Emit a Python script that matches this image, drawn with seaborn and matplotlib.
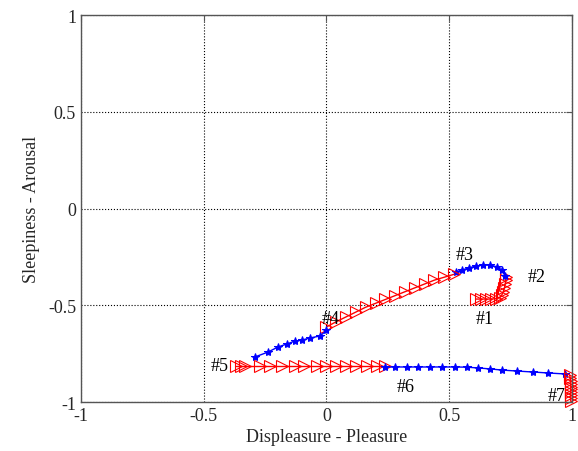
import matplotlib
matplotlib.use("Agg")
import matplotlib.pyplot as plt
import seaborn as sns
import pandas as pd

# Red segments (triangles) and blue segments (stars)
red1_x = [0.61, 0.63, 0.65, 0.67, 0.69, 0.705, 0.715, 0.72, 0.725, 0.728, 0.73, 0.73]
red1_y = [-0.468, -0.468, -0.468, -0.468, -0.466, -0.46, -0.445, -0.43, -0.41, -0.39, -0.37, -0.354]
blue1_x = [0.727, 0.715, 0.695, 0.666, 0.637, 0.609, 0.580, 0.552, 0.527]
blue1_y = [-0.349, -0.318, -0.302, -0.292, -0.292, -0.297, -0.307, -0.318, -0.328]
red2_x = [0.52, 0.48, 0.44, 0.40, 0.36, 0.32, 0.28, 0.24, 0.20, 0.16, 0.12, 0.08, 0.04, 0.00]
red2_y = [-0.34, -0.355, -0.37, -0.39, -0.41, -0.43, -0.45, -0.47, -0.49, -0.51, -0.535, -0.56, -0.585, -0.612]
blue2_x = [0.0, -0.026, -0.067, -0.10, -0.128, -0.161, -0.198, -0.238, -0.291]
blue2_y = [-0.63, -0.659, -0.669, -0.680, -0.685, -0.700, -0.716, -0.742, -0.767]
red3_x = [-0.37, -0.35, -0.33, -0.27, -0.23, -0.18, -0.13, -0.09, -0.04, 0.0, 0.04, 0.08, 0.12, 0.165, 0.205, 0.24]
red3_y = [-0.815] * 16
blue3_x = [0.24, 0.279, 0.328, 0.373, 0.421, 0.470, 0.523, 0.572, 0.617, 0.666, 0.715, 0.776, 0.841, 0.902, 0.971]
blue3_y = [-0.819, -0.819, -0.819, -0.819, -0.819, -0.819, -0.819, -0.820, -0.824, -0.829, -0.835, -0.840, -0.845, -0.850, -0.855]
red4_x = [0.99, 0.993, 0.995, 0.995, 0.995, 0.995, 0.995, 0.995, 0.995, 0.995]
red4_y = [-0.86, -0.875, -0.89, -0.905, -0.92, -0.935, -0.95, -0.965, -0.98, -0.995]

labels = ["#1", "#2", "#3", "#4", "#5", "#6", "#7"]
label_x = [0.646, 0.857, 0.564, 0.018, -0.434, 0.324, 0.939]
label_y = [-0.566, -0.349, -0.240, -0.571, -0.809, -0.922, -0.964]

ticks = [-1, -0.5, 0, 0.5, 1]
tick_labels = ["-1", "-0.5", "0", "0.5", "1"]

sns.set_style("white")
plt.rcParams["font.family"] = ["Liberation Serif", "DejaVu Serif"]
plt.rcParams["xtick.direction"] = "in"
plt.rcParams["ytick.direction"] = "in"

fig = plt.figure(figsize=(5.78, 4.52), dpi=100)
ax = fig.add_axes([0.140, 0.1084, 0.8496, 0.8562])

red_kw = dict(color="red", marker=">", markersize=8, markerfacecolor="none",
              markeredgecolor="red", markeredgewidth=0.8, linewidth=1.0, sort=False,
              estimator=None, clip_on=False)
blue_kw = dict(color="blue", marker="*", markersize=6, markerfacecolor="blue",
               markeredgecolor="blue", linewidth=1.0, sort=False, estimator=None,
               clip_on=False)

for xs, ys, kw in [(red1_x, red1_y, red_kw), (blue1_x, blue1_y, blue_kw),
                   (red2_x, red2_y, red_kw), (blue2_x, blue2_y, blue_kw),
                   (red3_x, red3_y, red_kw), (blue3_x, blue3_y, blue_kw),
                   (red4_x, red4_y, red_kw)]:
    df = pd.DataFrame({"x": xs, "y": ys})
    sns.lineplot(data=df, x="x", y="y", ax=ax, **kw)

for t, lx, ly in zip(labels, label_x, label_y):
    ax.text(lx, ly, t, fontsize=13, ha="center", va="center", color="black")

ax.set_xlim(-1, 1)
ax.set_ylim(-1, 1)
ax.set_xticks(ticks)
ax.set_xticklabels(tick_labels)
ax.set_yticks(ticks)
ax.set_yticklabels(tick_labels)
ax.tick_params(labelsize=13, length=4, color="#555555", top=True, right=True)
ax.grid(True, color="black", linestyle=":", linewidth=0.8)
for s in ax.spines.values():
    s.set_color("#555555")
    s.set_linewidth(1.0)
ax.set_xlabel("Displeasure - Pleasure", fontsize=13, labelpad=3)
ax.set_ylabel("Sleepiness - Arousal", fontsize=13, labelpad=6)

fig.savefig("out.png", dpi=100)
